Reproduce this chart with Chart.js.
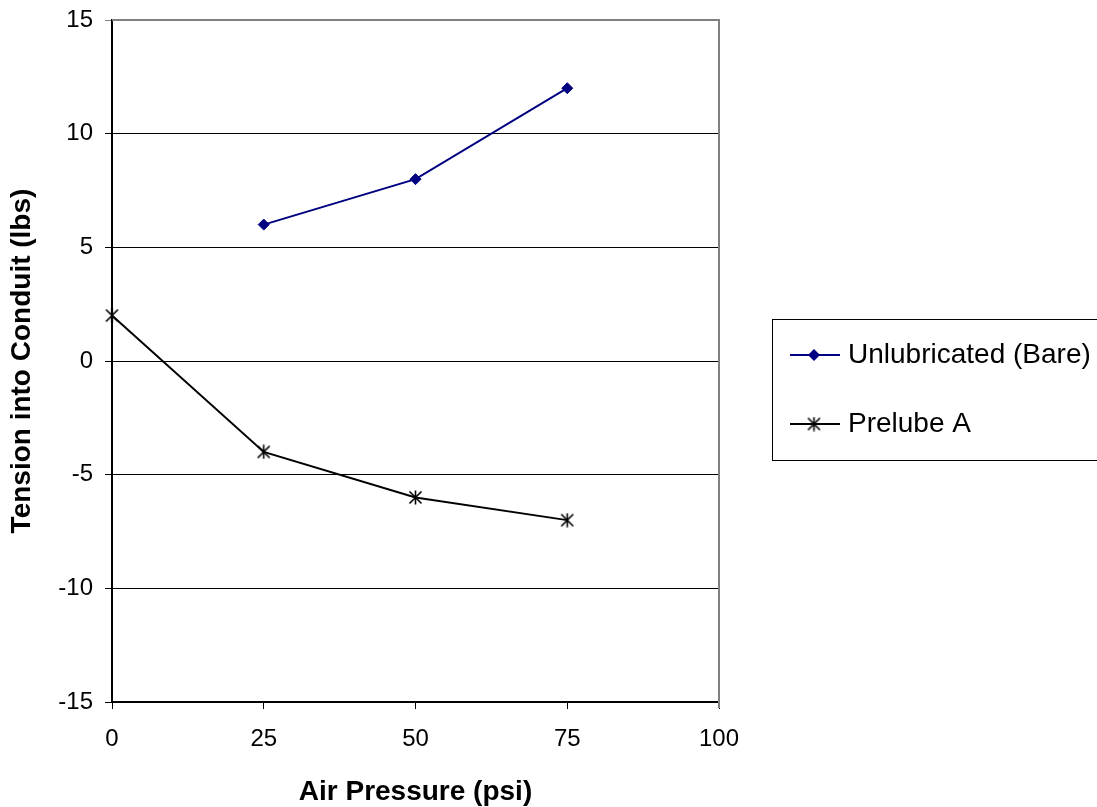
<!DOCTYPE html>
<html>
<head>
<meta charset="utf-8">
<script src="https://cdn.jsdelivr.net/npm/chart.js@4/dist/chart.umd.min.js"></script>
<style>
  html, body { margin: 0; padding: 0; background: #fff; }
  #wrap { width: 1097px; height: 807px; position: relative; }
</style>
</head>
<body>
<div id="wrap"><canvas id="c" width="1097" height="807"></canvas></div>
<script>
// ---- data ----
const seriesNames = ['Unlubricated (Bare)', 'Prelube A'];
const unlubX = [25, 50, 75];
const unlubY = [6, 8, 12];
const prelubeX = [0, 25, 50, 75];
const prelubeY = [2, -4, -6, -7];
const xTicks = [0, 25, 50, 75, 100];
const yTicks = [-15, -10, -5, 0, 5, 10, 15];
const xTitle = 'Air Pressure (psi)';
const yTitle = 'Tension into Conduit (lbs)';

const FONT = '"Liberation Sans", Arial, Helvetica, sans-serif';

function makeStar(color) {
  const s = 15;
  const cv = document.createElement('canvas');
  cv.width = s; cv.height = s;
  const g = cv.getContext('2d');
  g.strokeStyle = color;
  g.lineWidth = 1.6;
  g.beginPath();
  g.moveTo(1.5, 1.5); g.lineTo(13.5, 13.5);
  g.moveTo(13.5, 1.5); g.lineTo(1.5, 13.5);
  g.moveTo(7.5, 0.5); g.lineTo(7.5, 14.5);
  g.stroke();
  return cv;
}
const starImg = makeStar('#000000');

const pts = (xs, ys) => xs.map((x, i) => ({ x: x, y: ys[i] }));

const legendPlugin = {
  id: 'boxLegend',
  afterDraw(chart) {
    const ctx = chart.ctx;
    const ca = chart.chartArea;
    ctx.save();
    // plot border (top & right) in grey
    ctx.strokeStyle = '#808080';
    ctx.lineWidth = 2;
    ctx.beginPath();
    ctx.moveTo(ca.left, ca.top);
    ctx.lineTo(ca.right, ca.top);
    ctx.lineTo(ca.right, ca.bottom + 6);
    ctx.stroke();

    // legend box
    ctx.strokeStyle = '#000';
    ctx.lineWidth = 1;
    ctx.strokeRect(772.5, 319.5, 340, 141);

    const rows = [355, 424];
    chart.data.datasets.forEach((ds, i) => {
      const y = rows[i];
      ctx.strokeStyle = ds.borderColor;
      ctx.lineWidth = 2;
      ctx.beginPath();
      ctx.moveTo(790, y);
      ctx.lineTo(840, y);
      ctx.stroke();
      if (ds.pointStyle === 'rectRot') {
        ctx.fillStyle = ds.pointBackgroundColor;
        ctx.beginPath();
        ctx.moveTo(814 - 6, y);
        ctx.lineTo(814, y - 6);
        ctx.lineTo(814 + 6, y);
        ctx.lineTo(814, y + 6);
        ctx.closePath();
        ctx.fill();
      } else {
        ctx.drawImage(starImg, 814 - starImg.width / 2, y - starImg.height / 2);
      }
      ctx.fillStyle = '#000';
      ctx.font = '28px ' + FONT;
      ctx.textBaseline = 'middle';
      ctx.textAlign = 'left';
      ctx.fillText(ds.label, 848, y);
    });
    ctx.restore();
  }
};

new Chart(document.getElementById('c'), {
  type: 'line',
  data: {
    datasets: [
      {
        label: seriesNames[0],
        data: pts(unlubX, unlubY),
        borderColor: '#000080',
        backgroundColor: '#000080',
        pointBackgroundColor: '#000080',
        pointBorderColor: '#000080',
        borderWidth: 2,
        pointStyle: 'rectRot',
        pointRadius: 5.5,
        pointBorderWidth: 1,
        tension: 0,
        clip: false
      },
      {
        label: seriesNames[1],
        data: pts(prelubeX, prelubeY),
        borderColor: '#000000',
        backgroundColor: '#000000',
        borderWidth: 2,
        pointStyle: starImg,
        pointRadius: 7,
        tension: 0,
        clip: false
      }
    ]
  },
  options: {
    responsive: false,
    animation: false,
    events: [],
    layout: { autoPadding: false, padding: { top: 20, right: 378, left: 0, bottom: 0 } },
    plugins: {
      legend: { display: false },
      tooltip: { enabled: false },
      title: { display: false }
    },
    scales: {
      x: {
        type: 'linear',
        min: 0, max: 100,
        afterBuildTicks: (s) => { s.ticks = xTicks.map(v => ({ value: v })); },
        afterFit: (s) => { s.height = 105; s.paddingLeft = 0; s.paddingRight = 0; },
        ticks: {
          color: '#000',
          font: { family: FONT, size: 24 },
          padding: 16,
          maxRotation: 0,
          callback: (v) => String(v)
        },
        grid: { drawOnChartArea: false, drawTicks: true, tickLength: 7, color: '#000', lineWidth: 1 },
        border: { display: true, color: '#000', width: 2 },
        title: {
          display: true,
          text: xTitle,
          color: '#000',
          font: { family: FONT, size: 28, weight: 'bold', lineHeight: 1 },
          padding: { top: 0, bottom: 1 }
        }
      },
      y: {
        type: 'linear',
        min: -15, max: 15,
        afterBuildTicks: (s) => { s.ticks = yTicks.map(v => ({ value: v })); },
        afterFit: (s) => { s.width = 112; s.paddingTop = 0; s.paddingBottom = 0; },
        ticks: {
          color: '#000',
          font: { family: FONT, size: 24 },
          padding: 12,
          callback: (v) => String(v)
        },
        grid: {
          drawOnChartArea: true, drawTicks: true, tickLength: 7,
          color: (c) => (c.tick && c.tick.value === 15 ? '#808080' : '#000'),
          lineWidth: 1
        },
        border: { display: true, color: '#000', width: 2 },
        title: {
          display: true,
          text: yTitle,
          color: '#000',
          font: { family: FONT, size: 28, weight: 'bold', lineHeight: 1 },
          padding: { top: 8, bottom: 0 }
        }
      }
    }
  },
  plugins: [legendPlugin]
});
</script>
</body>
</html>
